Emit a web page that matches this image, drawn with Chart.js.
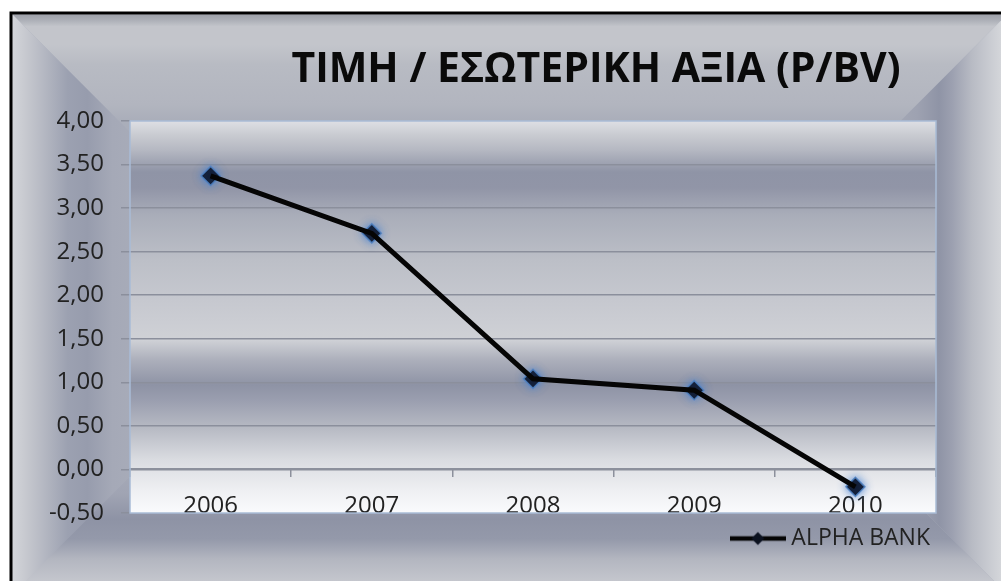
<!DOCTYPE html>
<html>
<head>
<meta charset="utf-8">
<script src="https://cdn.jsdelivr.net/npm/chart.js@4/dist/chart.umd.min.js"></script>
<style>
  html, body { margin: 0; padding: 0; background: #ffffff; }
  #wrap { position: relative; width: 1001px; height: 581px; overflow: hidden; }
  canvas { display: block; }
</style>
</head>
<body>
<div id="wrap"><canvas id="c" width="1001" height="581"></canvas></div>
<script>
// P/BV ratio per year
const years = ['2006', '2007', '2008', '2009', '2010'];
const seriesName = 'ALPHA BANK';
const pbv = [3.37, 2.71, 1.04, 0.91, -0.20];
const yTickValues = [-0.5, 0, 0.5, 1, 1.5, 2, 2.5, 3, 3.5, 4];
const chartTitle = 'ΤΙΜΗ / ΕΣΩΤΕΡΙΚΗ ΑΞΙΑ (P/BV)';

const FONT = '"Open Sans", "Noto Sans", sans-serif';

// Build a linear gradient from a list of [pixelOffset, colour] stops
function bandGradient(ctx, x0, y0, x1, y1, stops) {
  const len = Math.hypot(x1 - x0, y1 - y0);
  const g = ctx.createLinearGradient(x0, y0, x1, y1);
  stops.forEach(([px, col]) => g.addColorStop(Math.min(1, px / len), col));
  return g;
}

// Framed, rectangular-gradient background of the whole chart box
const framePlugin = {
  id: 'frame',
  beforeDraw(chart) {
    const ctx = chart.ctx;
    const x0 = 12.5, y0 = 14.5, x1 = 1007, y1 = 594;
    const H = (y1 - y0) / 2;
    const centre = '#a9adba';
    ctx.save();
    ctx.fillStyle = '#ffffff';
    ctx.fillRect(0, 0, chart.width, chart.height);
    ctx.fillStyle = centre;
    ctx.fillRect(x0, y0, x1 - x0, y1 - y0);

    const sides = [
      { poly: [[x0, y0], [x1, y0], [x1 - H, y0 + H], [x0 + H, y0 + H]], from: [0, y0], to: [0, y0 + H],
        stops: [[0, '#9da0a9'], [5, '#aaadb5'], [12, '#c3c5cb'], [30, '#c3c5cb'], [50, '#b8bbc3'], [90, '#b2b5bf'], [106, '#aaaeba'], [140, centre]] },
      { poly: [[x0, y0], [x0 + H, y0 + H], [x1 - H, y1 - H], [x0, y1]], from: [x0, 0], to: [x0 + H, 0],
        stops: [[0, '#d3d5da'], [12, '#c8cad0'], [30, '#b6b9c3'], [55, '#9ca1b1'], [75, '#979cad'], [100, '#a5a9b7'], [140, centre]] },
      { poly: [[x1, y0], [x1, y1], [x1 - H, y1 - H], [x1 - H, y0 + H]], from: [x1, 0], to: [x1 - H, 0],
        stops: [[0, '#dcdde1'], [6, '#d4d6da'], [35, '#b8bbc4'], [55, '#9ca0b0'], [68, '#8f94a6'], [90, '#9ea2b1'], [140, centre]] },
      { poly: [[x0, y1], [x0 + H, y1 - H], [x1 - H, y1 - H], [x1, y1]], from: [0, y1], to: [0, y1 - H],
        stops: [[0, '#d0d2d7'], [13, '#c4c6cd'], [35, '#b3b6c0'], [55, '#9499aa'], [75, '#8e93a5'], [100, '#a0a4b3'], [140, centre]] }
    ];
    sides.forEach(s => {
      ctx.beginPath();
      s.poly.forEach(([px, py], i) => (i ? ctx.lineTo(px, py) : ctx.moveTo(px, py)));
      ctx.closePath();
      ctx.fillStyle = bandGradient(ctx, s.from[0], s.from[1], s.to[0], s.to[1], s.stops);
      ctx.fill();
    });

    // outer black border
    ctx.strokeStyle = '#000000';
    ctx.lineWidth = 3;
    ctx.strokeRect(11, 13, 1010, 590);

    // plot area: banded vertical gradient
    const a = chart.chartArea;
    const h = a.bottom - a.top;
    const pg = ctx.createLinearGradient(0, a.top, 0, a.bottom);
    [[0, '#dedfe4'], [14, '#c9cbd1'], [29, '#b5b8c2'], [51, '#8f94a6'], [67, '#9195a7'], [94, '#a9adb9'],
     [139, '#bcbfc7'], [179, '#c6c8cf'], [219, '#cfd1d6'], [239, '#acafbb'], [264, '#8e93a5'], [279, '#9a9eaf'],
     [309, '#b9bcc5'], [339, '#dadce1'], [369, '#eeeff2'], [392, '#fafbfd']]
      .forEach(([px, col]) => pg.addColorStop(Math.min(1, px / h), col));
    ctx.fillStyle = pg;
    ctx.fillRect(a.left, a.top, a.right - a.left, h);
    ctx.restore();
  },
  beforeDatasetsDraw(chart) {
    const ctx = chart.ctx;
    const a = chart.chartArea;
    ctx.save();
    ctx.strokeStyle = '#a9bcd6';
    ctx.lineWidth = 1.5;
    ctx.strokeRect(a.left, a.top, a.right - a.left, a.bottom - a.top);
    ctx.restore();
  },
  // soft blue glow around the diamond markers
  beforeDatasetDraw(chart, args) {
    if (args.index !== 1) return;
    const ctx = chart.ctx;
    ctx.save();
    ctx.shadowColor = 'rgba(72,130,210,0.95)';
    ctx.shadowBlur = 9;
  },
  afterDatasetDraw(chart, args) {
    if (args.index !== 1) return;
    chart.ctx.restore();
  },
  afterDraw(chart) {
    const ctx = chart.ctx;
    ctx.save();
    ctx.font = 'bold 41px ' + FONT;
    ctx.fillStyle = '#0a0a0a';
    ctx.textAlign = 'center';
    ctx.textBaseline = 'alphabetic';
    ctx.fillText(chartTitle, 596, 82);
    ctx.restore();
  }
};

// Legend symbol: line with a diamond marker
function legendSymbol() {
  const c = document.createElement('canvas');
  c.width = 56; c.height = 16;
  const g = c.getContext('2d');
  g.strokeStyle = '#050505';
  g.lineWidth = 4.5;
  g.beginPath(); g.moveTo(0, 8); g.lineTo(56, 8); g.stroke();
  g.fillStyle = '#0c1220';
  g.beginPath(); g.moveTo(28, 1.5); g.lineTo(34.5, 8); g.lineTo(28, 14.5); g.lineTo(21.5, 8); g.closePath(); g.fill();
  return c;
}

function build() {
  new Chart(document.getElementById('c'), {
    type: 'line',
    data: {
      labels: years,
      datasets: [{
        label: seriesName,
        data: pbv,
        borderColor: '#050505',
        borderWidth: 5,
        tension: 0,
        pointRadius: 0
      }, {
        label: seriesName + ' markers',
        data: pbv,
        showLine: false,
        pointStyle: 'rectRot',
        pointRadius: 9.5,
        pointBackgroundColor: '#0b1020',
        pointBorderColor: 'rgba(80,130,195,0.85)',
        pointBorderWidth: 1.5
      }]
    },
    options: {
      responsive: false,
      animation: false,
      events: [],
      devicePixelRatio: 1,
      layout: { padding: { left: 12, top: 121, right: 57, bottom: 21 } },
      plugins: {
        title: { display: false },
        tooltip: { enabled: false },
        legend: {
          display: true,
          position: 'bottom',
          align: 'end',
          labels: {
            usePointStyle: true,
            pointStyle: legendSymbol(),
            pointStyleWidth: 44,
            font: { family: FONT, size: 23 },
            color: '#222222',
            padding: 14,
            filter: item => item.datasetIndex === 0
          }
        }
      },
      scales: {
        x: {
          type: 'category',
          offset: true,
          position: { y: 0 },
          grid: { offset: true, drawOnChartArea: false, drawTicks: true, tickLength: 7, color: '#8c909c', lineWidth: 1.5 },
          border: { display: true, color: '#8c909c', width: 2 },
          ticks: { font: { family: FONT, size: 24 }, color: '#222222', padding: 15, maxRotation: 0 }
        },
        y: {
          min: -0.5,
          max: 4,
          afterBuildTicks(scale) { scale.ticks = yTickValues.map(v => ({ value: v })); },
          afterFit(scale) { scale.width = 118; },
          grid: {
            drawTicks: true,
            tickLength: 9,
            lineWidth: 1.5,
            color: ctx => (ctx.tick && (ctx.tick.value === 4 || ctx.tick.value === -0.5)) ? 'rgba(0,0,0,0)' : '#8b8f9c',
            tickColor: '#8b8f9c'
          },
          border: { display: false },
          ticks: {
            font: { family: FONT, size: 24 },
            color: '#222222',
            padding: 17,
            callback: v => v.toFixed(2).replace('.', ',')
          }
        },
        // empty right-hand spacer keeping the plot's right edge clear of the legend text
        yRight: {
          type: 'linear',
          position: 'right',
          display: true,
          grid: { display: false, drawTicks: false },
          border: { display: false },
          ticks: { display: false },
          afterFit(scale) { scale.width = 8; }
        }
      }
    },
    plugins: [framePlugin]
  });
}

const fontLoads = [
  document.fonts.load('bold 41px "Open Sans"', chartTitle),
  document.fonts.load('24px "Open Sans"', '0123456789,')
];
Promise.all(fontLoads).then(build, build);
</script>
</body>
</html>
